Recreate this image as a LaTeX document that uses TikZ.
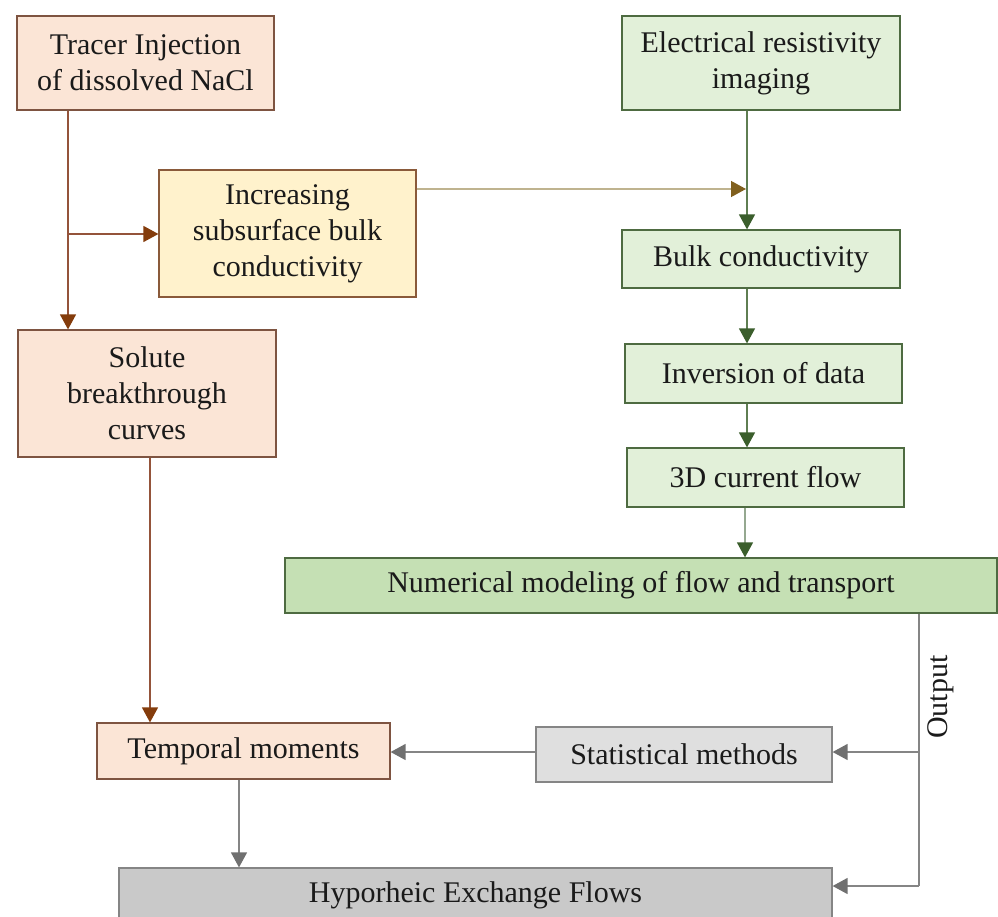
\documentclass[tikz,border=0pt]{standalone}
\usepackage{fontspec}
\setmainfont{Liberation Serif}
\usetikzlibrary{arrows.meta}
\definecolor{peachfill}{HTML}{FBE5D6}
\definecolor{peachdraw}{HTML}{7E5441}
\definecolor{yellowfill}{HTML}{FFF2CC}
\definecolor{yellowdraw}{HTML}{8A5A3A}
\definecolor{greenfill}{HTML}{E2F0D9}
\definecolor{greendraw}{HTML}{4E6B41}
\definecolor{numfill}{HTML}{C5E0B4}
\definecolor{statfill}{HTML}{DFDFDF}
\definecolor{hypfill}{HTML}{C9C9C9}
\definecolor{greydraw}{HTML}{858585}
\definecolor{brownline}{HTML}{94533A}
\definecolor{brownhead}{HTML}{843C0C}
\definecolor{tanline}{HTML}{BFB38F}
\definecolor{tanhead}{HTML}{80601E}
\definecolor{greenline}{HTML}{5F7E52}
\definecolor{greenhead}{HTML}{3B5E2C}
\definecolor{palegreenline}{HTML}{95A890}
\definecolor{greyline}{HTML}{858585}
\definecolor{greyhead}{HTML}{707070}
\definecolor{txt}{HTML}{1A1A1A}
\tikzset{
  box/.style={draw, rectangle, align=center, inner sep=0pt, line width=1.2pt,
    text=txt, font=\fontsize{30}{36}\selectfont},
  peachbox/.style={box, fill=peachfill, draw=peachdraw},
  yellowbox/.style={box, fill=yellowfill, draw=yellowdraw},
  greenbox/.style={box, fill=greenfill, draw=greendraw},
  numbox/.style={box, fill=numfill, draw=greendraw},
  statbox/.style={box, fill=statfill, draw=greydraw},
  hypbox/.style={box, fill=hypfill, draw=greydraw},
  tip/.style={-{Triangle[length=15pt,width=16pt,color=#1]}},
  brownarrow/.style={draw=brownline, line width=1.3pt, tip=brownhead},
  tanarrow/.style={draw=tanline, line width=1.3pt, tip=tanhead},
  greenarrow/.style={draw=greenline, line width=1.3pt, tip=greenhead},
  palegreenarrow/.style={draw=palegreenline, line width=1.3pt, tip=greenhead},
  greyarrow/.style={draw=greyline, line width=1.3pt, tip=greyhead},
  greyline/.style={draw=greyline, line width=1.3pt},
}
\begin{document}
\begin{tikzpicture}[x=1pt,y=1pt]
\useasboundingbox (0,0) rectangle (998,-917);
% left column
\node[peachbox, minimum width=257, minimum height=94] (tracer) at (145.5,-63) {Tracer Injection\\of dissolved NaCl};
\node[yellowbox, minimum width=257, minimum height=127] (incr) at (287.5,-233.5) {Increasing\\subsurface bulk\\conductivity};
\node[peachbox, minimum width=258, minimum height=127] (solute) at (147,-393.5) {Solute\\breakthrough\\curves};
\node[peachbox, minimum width=293, minimum height=56] (temp) at (243.5,-751) {Temporal moments};
% right column
\node[greenbox, minimum width=278, minimum height=94] (elec) at (761,-63) {Electrical resistivity\\imaging};
\node[greenbox, minimum width=278, minimum height=58] (bulk) at (761,-259) {Bulk conductivity};
\node[greenbox, minimum width=277, minimum height=59] (inv) at (763.5,-373.5) {Inversion of data};
\node[greenbox, minimum width=277, minimum height=59] (cur) at (765.5,-477.5) {3D current flow};
\node[numbox, minimum width=712, minimum height=55] (num) at (641,-585.5) {Numerical modeling of flow and transport};
\node[statbox, minimum width=296, minimum height=55] (stat) at (684,-754.5) {Statistical methods};
\node[hypbox, minimum width=713, minimum height=55] (hyp) at (475.5,-895.5) {Hyporheic Exchange Flows};
\node[text=txt, font=\fontsize{30}{36}\selectfont, rotate=90] (out) at (941,-697) {Output};
% helper coordinates
\coordinate (xl) at (68,0);
\coordinate (xs) at (150,0);
\coordinate (xg) at (747,0);
\coordinate (xc) at (745,0);
\coordinate (xo) at (919,0);
\coordinate (xt) at (239,0);
\coordinate (branch) at (68,-234);
\coordinate (tanend) at (746,-189);
\coordinate (ostat) at (919,-752);
\coordinate (ohyp) at (919,-886);
% connectors
\draw[brownarrow] (tracer.south -| xl) -- (solute.north -| xl);
\draw[brownarrow] (branch) -- (incr.west |- branch);
\draw[brownarrow] (solute.south -| xs) -- (temp.north -| xs);
\draw[tanarrow] (incr.east |- tanend) -- (tanend);
\draw[greenarrow] (elec.south -| xg) -- (bulk.north -| xg);
\draw[greenarrow] (bulk.south -| xg) -- (inv.north -| xg);
\draw[greenarrow] (inv.south -| xg) -- (cur.north -| xg);
\draw[palegreenarrow] (cur.south -| xc) -- (num.north -| xc);
\draw[greyline] (num.south -| xo) -- (ohyp);
\draw[greyarrow] (ostat) -- (stat.east |- ostat);
\draw[greyarrow] (ohyp) -- (hyp.east |- ohyp);
\draw[greyarrow] (stat.west |- ostat) -- (temp.east |- ostat);
\draw[greyarrow] (temp.south -| xt) -- (hyp.north -| xt);
\end{tikzpicture}
\end{document}
